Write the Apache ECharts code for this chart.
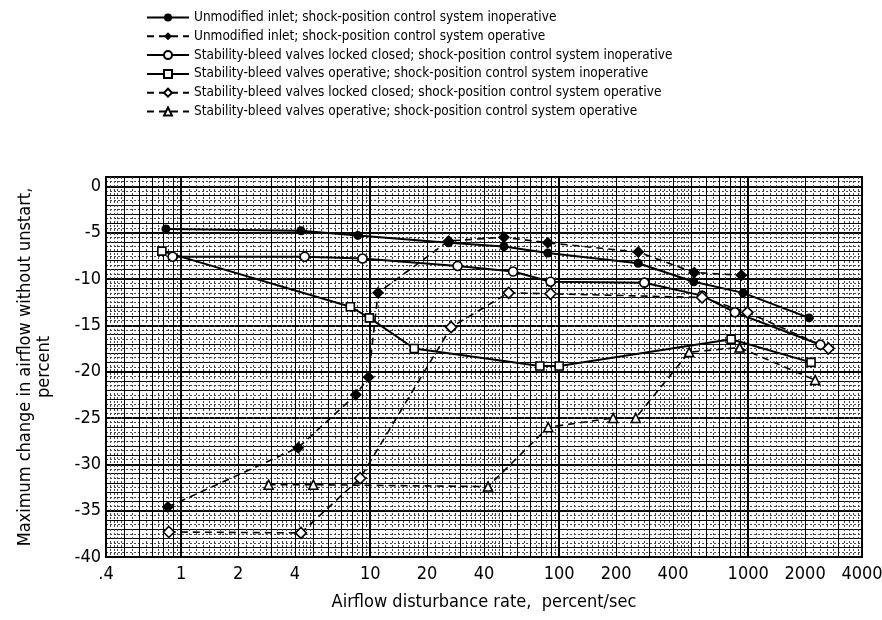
<!DOCTYPE html>
<html>
<head>
<meta charset="utf-8">
<script src="https://cdn.jsdelivr.net/npm/echarts@6/dist/echarts.min.js"></script>
<style>
  html, body { margin: 0; background: #fff; }
  #chart { width: 882px; height: 620px; }
</style>
</head>
<body>
<div id="chart"></div>
<script>
var FONT = '"Liberation Sans Narrow", "DejaVu Sans Condensed", sans-serif';

// axis ticks
var xTickValues = [0.4, 1, 2, 4, 10, 20, 40, 100, 200, 400, 1000, 2000, 4000];
var xTickLabels = ['.4', '1', '2', '4', '10', '20', '40', '100', '200', '400', '1000', '2000', '4000'];
var xMin = 0.4, xMax = 4000;
var yMin = -40, yMax = 1;

// legend / series names
var seriesNames = [
  'Unmodified inlet; shock-position control system inoperative',
  'Unmodified inlet; shock-position control system operative',
  'Stability-bleed valves locked closed; shock-position control system inoperative',
  'Stability-bleed valves operative; shock-position control system inoperative',
  'Stability-bleed valves locked closed; shock-position control system operative',
  'Stability-bleed valves operative; shock-position control system operative'
];

// [airflow disturbance rate, max change in airflow]
var unmodInoperative = [[0.83, -4.6], [4.3, -4.8], [8.6, -5.3], [26, -6.1], [51, -6.5], [87, -7.2], [262, -8.3], [515, -10.3], [940, -11.5], [2100, -14.2]];
var unmodOperative = [[0.85, -34.6], [4.16, -28.2], [8.4, -22.5], [9.8, -20.6], [11, -11.5], [26, -5.9], [51, -5.5], [87, -6.1], [262, -7.1], [518, -9.3], [920, -9.6]];
var closedInoperative = [[0.9, -7.6], [4.5, -7.6], [9.1, -7.8], [29, -8.6], [57, -9.2], [90, -10.3], [282, -10.4], [570, -11.8], [850, -13.6], [2410, -17.1]];
var bleedInoperative = [[0.79, -7.0], [7.85, -13.0], [9.9, -14.2], [17.1, -17.5], [79, -19.4], [100, -19.4], [812, -16.5], [2150, -19.0]];
var closedOperative = [[0.86, -37.3], [4.3, -37.4], [8.85, -31.5], [26.8, -15.2], [54, -11.5], [90, -11.6], [570, -12.0], [990, -13.6], [2660, -17.5]];
var bleedOperative = [[2.9, -32.2], [5.0, -32.2], [42, -32.4], [87.5, -26.0], [193, -25.0], [254, -25.0], [487, -17.9], [900, -17.4], [2260, -20.9]];

// graph paper vertical lines (level 2 = decade, 1 = integer, 0 = dotted)
var gridLines = [];
[0.1, 1, 10, 100, 1000].forEach(function (d) {
  var k;
  for (k = 1; k < 10; k++) gridLines.push([k * d, k === 1 ? 2 : 1]);
  for (k = 11; k < 20; k++) gridLines.push([k / 10 * d, 0]);
  for (k = 22; k < 50; k += 2) if (k % 10) gridLines.push([k / 10 * d, 0]);
  for (k = 55; k < 100; k += 10) gridLines.push([k / 10 * d, 0]);
});
gridLines = gridLines.filter(function (g) { return g[0] > xMin * 1.0001 && g[0] < xMax * 0.9999; });

function renderGridLine(params, api) {
  var lvl = api.value(1);
  var p0 = api.coord([api.value(0), yMax]);
  var p1 = api.coord([api.value(0), yMin]);
  var x = lvl === 2 ? Math.round(p0[0]) : Math.round(p0[0]) + 0.5;
  return {
    type: 'line',
    silent: true,
    shape: { x1: x, y1: p0[1], x2: x, y2: p1[1] },
    style: {
      stroke: lvl === 0 ? '#444' : '#000',
      lineWidth: lvl === 2 ? 2 : 1,
      lineDash: lvl === 0 ? [2, 2] : null
    }
  };
}

function renderTickLabel(params, api) {
  var p = api.coord([api.value(0), yMin]);
  return {
    type: 'text',
    silent: true,
    x: p[0],
    y: p[1] + 17,
    style: {
      text: xTickLabels[params.dataIndex],
      fill: '#000',
      fontSize: 18,
      fontFamily: FONT,
      align: 'center',
      verticalAlign: 'middle'
    }
  };
}

function dataSeries(name, data, symbol, size, filled, dashed) {
  return {
    name: name,
    type: 'line',
    data: data,
    z: 5,
    symbol: symbol,
    symbolSize: size,
    emphasis: { disabled: true },
    lineStyle: { color: '#000', width: dashed ? 1.6 : 2, type: dashed ? [7, 5] : 'solid' },
    itemStyle: { color: filled ? '#000' : '#fff', borderColor: '#000', borderWidth: filled ? 0 : 1.6 }
  };
}

var chart = echarts.init(document.getElementById('chart'));
chart.setOption({
  animation: false,
  backgroundColor: '#fff',
  textStyle: { fontFamily: FONT, color: '#000' },
  legend: {
    data: seriesNames,
    orient: 'vertical',
    left: 141,
    top: 5,
    itemWidth: 42,
    itemHeight: 10,
    itemGap: 3.8,
    textStyle: { fontSize: 13.5, lineHeight: 15, color: '#000', fontFamily: FONT }
  },
  grid: {
    left: 106, right: 20, top: 177, bottom: 63,
    show: true, borderColor: '#000', borderWidth: 2, backgroundColor: 'transparent'
  },
  xAxis: {
    type: 'log',
    logBase: 10,
    min: xMin,
    max: xMax,
    name: 'Airflow disturbance rate,  percent/sec',
    nameLocation: 'middle',
    nameGap: 36,
    nameTextStyle: { fontSize: 18, fontFamily: FONT, color: '#000' },
    axisLine: { show: true, lineStyle: { color: '#000', width: 2 } },
    axisTick: { show: false },
    axisLabel: { show: false },
    splitLine: { show: false }
  },
  yAxis: [{
    type: 'value',
    min: yMin,
    max: yMax,
    interval: 5,
    name: 'Maximum change in airflow without unstart,\npercent',
    nameLocation: 'middle',
    nameRotate: 90,
    nameGap: 52,
    nameTextStyle: { fontSize: 18, lineHeight: 19, fontFamily: FONT, color: '#000', align: 'center' },
    axisLine: { show: true, lineStyle: { color: '#000', width: 2 } },
    axisTick: { show: false },
    axisLabel: { fontSize: 18, fontFamily: FONT, color: '#000', margin: 5, showMaxLabel: false },
    splitLine: { show: true, lineStyle: { color: '#000', width: 2 } }
  }, {
    type: 'value',
    min: yMin,
    max: yMax,
    interval: 1,
    position: 'left',
    axisLine: { show: false },
    axisTick: { show: false },
    axisLabel: { show: false },
    splitLine: { show: true, lineStyle: { color: '#000', width: 1 } },
    minorTick: { show: false, splitNumber: 2 },
    minorSplitLine: { show: true, lineStyle: { color: '#444', width: 1, type: [2, 2] } }
  }],
  series: [
    {
      name: 'gridX',
      type: 'custom',
      z: 1,
      silent: true,
      renderItem: renderGridLine,
      encode: { x: 0, y: 1 },
      data: gridLines
    },
    {
      name: 'tickX',
      type: 'custom',
      z: 2,
      silent: true,
      renderItem: renderTickLabel,
      encode: { x: 0, y: 1 },
      data: xTickValues.map(function (v) { return [v, yMin]; })
    },
    dataSeries(seriesNames[0], unmodInoperative, 'circle', 9, true, false),
    dataSeries(seriesNames[1], unmodOperative, 'diamond', 12, true, true),
    dataSeries(seriesNames[2], closedInoperative, 'circle', 9, false, false),
    dataSeries(seriesNames[3], bleedInoperative, 'rect', 8, false, false),
    dataSeries(seriesNames[4], closedOperative, 'diamond', 11, false, true),
    dataSeries(seriesNames[5], bleedOperative, 'triangle', 9, false, true)
  ]
});
</script>
</body>
</html>
